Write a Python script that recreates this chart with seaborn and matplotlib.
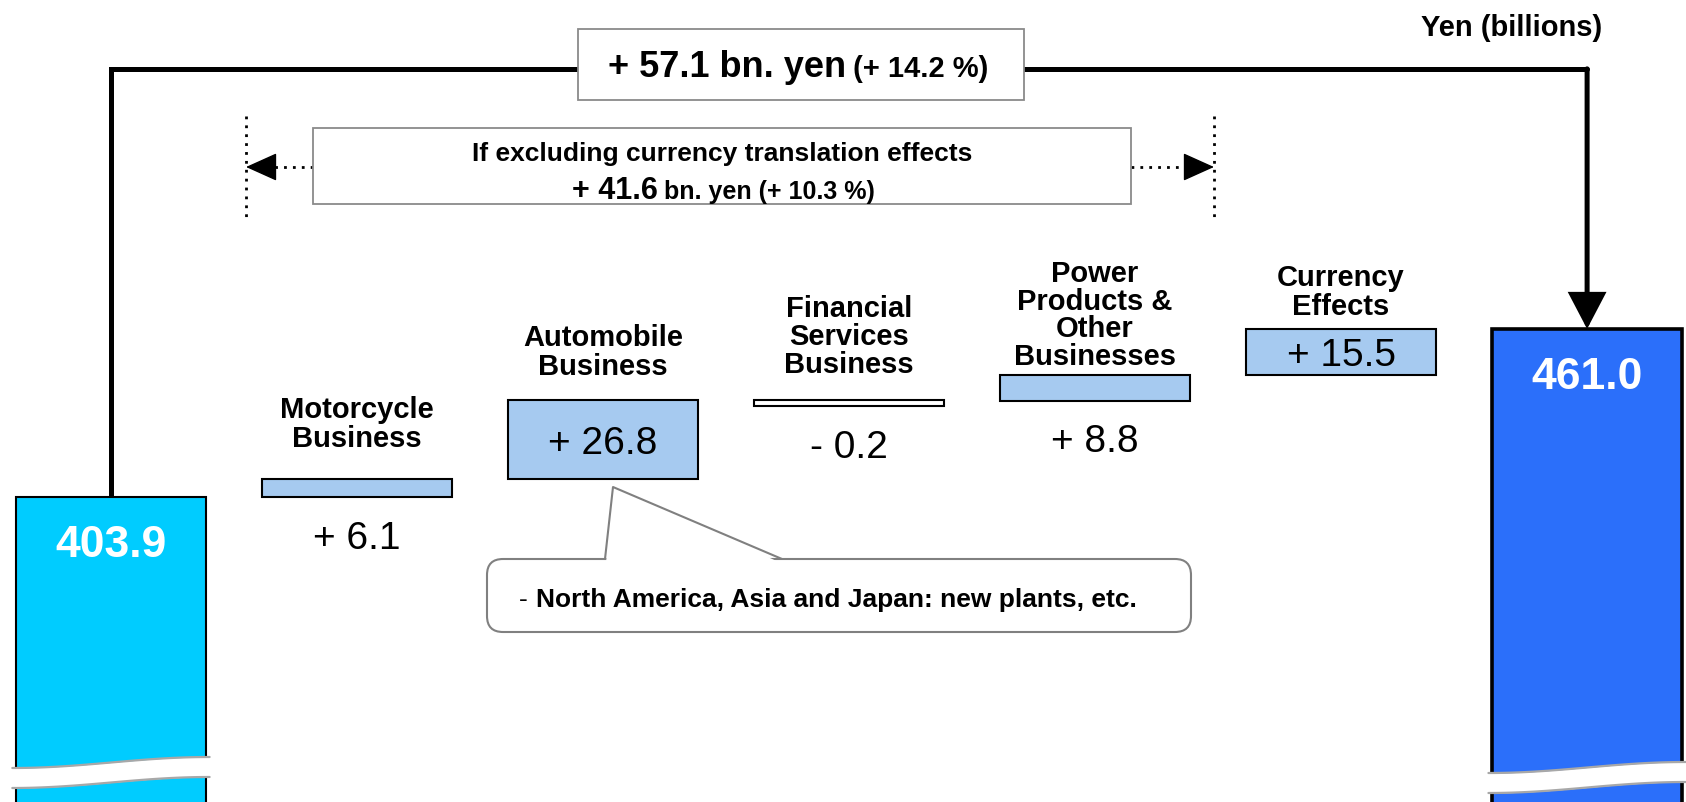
import numpy as np
import pandas as pd
import seaborn as sns
import matplotlib.pyplot as plt
from matplotlib.patches import Rectangle, FancyBboxPatch, Polygon
from matplotlib.transforms import Affine2D, blended_transform_factory
#---------------------------------------------------------------------------#
# values (Yen, billions)
start_value = 403.9
end_value = 461.0
step_labels = ['Motorcycle\nBusiness', 'Automobile\nBusiness',
               'Financial\nServices\nBusiness',
               'Power\nProducts &\nOther\nBusinesses', 'Currency\nEffects']
step_values = [6.1, 26.8, -0.2, 8.8, 15.5]
step_text = ['+ 6.1', '+ 26.8', '- 0.2', '+ 8.8', '+ 15.5']

total_change = '+ 57.1 bn. yen'
total_pct = '(+ 14.2 %)'
excl_title = 'If excluding currency translation effects'
excl_change = '+ 41.6'
excl_rest = 'bn. yen (+ 10.3 %)'
note_text = 'North America, Asia and Japan: new plants, etc.'
unit_label = 'Yen (billions)'

# label gap above each step bar (points) - layout only
label_pad = [19, 14, 15, 3, 6]
label_spacing = [1.04, 1.04, 1.0, 0.98, 1.04]
#---------------------------------------------------------------------------#
W, H = 1686, 802
steps = np.array(step_values)
cum = start_value + np.cumsum(steps)
prev = np.concatenate([[start_value], cum[:-1]])
lo = np.minimum(prev, cum)
hi = np.maximum(prev, cum)
# keep tiny steps visible (min drawn height)
min_h = 2.0
small = (hi - lo) < min_h
lo = np.where(small & (steps < 0), prev - min_h, lo)
hi = np.where(small & (steps >= 0), prev + min_h, hi)

keys = ['start'] + ['s%d' % i for i in range(len(steps))] + ['end']
df = pd.DataFrame({'item': keys,
                   'bottom': [0] + list(lo) + [0],
                   'height': [start_value] + list(hi - lo) + [end_value]})

sns.set_style('white')
plt.rcParams['font.family'] = ['Liberation Sans', 'DejaVu Sans']
plt.rcParams['text.color'] = 'black'

fig = plt.figure(figsize=(W / 100, H / 100), dpi=100)
ax = fig.add_axes([0, 0, 1, 1])
sns.barplot(data=df, x='item', y='height', order=keys, width=0.77,
            bottom=df['bottom'].to_numpy(), color='#A6CAF0',
            edgecolor='black', linewidth=1.5, errorbar=None, ax=ax)

faces = ['#00CCFF'] + ['#A6CAF0' if v > 0 else 'white' for v in steps] + ['#2B6FFA']
for i, p in enumerate(ax.patches):
    p.set_facecolor(faces[i])
    p.set_zorder(2)
ax.patches[-1].set_linewidth(2.6)

ax.set_xlim(-0.451, 6.402)
ax.set_ylim(300.2, 572.8)
ax.axis('off')

# pixel coordinate transform (origin top-left of the picture)
T = Affine2D().scale(1 / W, -1 / H).translate(0, 1) + ax.transAxes
BL = blended_transform_factory(ax.transData, Affine2D().scale(1, -1 / H).translate(0, 1) + ax.transAxes)

n_last = len(keys) - 1
# totals
for i, v in [(0, start_value), (n_last, end_value)]:
    ax.annotate(f'{v:.1f}', xy=(i, v), xytext=(0, -35), textcoords='offset points',
                ha='center', va='center', fontsize=32, fontweight='bold',
                color='white', zorder=5)

# step labels and values
for j, (lab, txt) in enumerate(zip(step_labels, step_text)):
    i = j + 1
    ax.annotate(lab, xy=(i, hi[j]), xytext=(0, label_pad[j]), textcoords='offset points',
                ha='center', va='bottom', fontsize=21, fontweight='bold',
                linespacing=label_spacing[j], zorder=5)
    if abs(steps[j]) >= 15:
        ax.annotate(txt, xy=(i, (lo[j] + hi[j]) / 2), xytext=(0, -3),
                    textcoords='offset points', ha='center', va='center',
                    fontsize=28, zorder=5)
    else:
        ax.annotate(txt, xy=(i, lo[j]), xytext=(0, -17), textcoords='offset points',
                    ha='center', va='top', fontsize=28, zorder=5)

# axis break waves on the total bars
t = np.linspace(0, 1, 60)
s = (1 - np.cos(np.pi * t)) / 2
for i, base in [(0, 768), (n_last, 773)]:
    xs = i - 0.385 - 0.016 + t * (0.77 + 0.032)
    top = base - 11 * s
    bot = top + 20
    ax.fill_between(xs, bot, top, transform=BL, color='white', zorder=3, lw=0)
    ax.plot(xs, top, transform=BL, color='#a8a8a8', lw=1.6, zorder=3)
    ax.plot(xs, bot, transform=BL, color='#a8a8a8', lw=1.6, zorder=3)

# total change bracket
bracket_y = 549.4
ax.plot([0, 0, n_last], [start_value, bracket_y, bracket_y], color='black',
        lw=3.6, solid_joinstyle='miter', zorder=1)
ax.annotate('', xy=(n_last, end_value), xytext=(n_last, bracket_y),
            arrowprops=dict(arrowstyle='-|>,head_length=1.05,head_width=0.55',
                            color='black', lw=3.6, shrinkA=0, shrinkB=0,
                            mutation_scale=20, joinstyle='miter'), zorder=1)
ax.add_patch(Rectangle((578, 29), 446, 71, transform=T, fc='white',
                       ec='#8a8a8a', lw=1.3, zorder=4))
ax.text(846, 77, total_change, transform=T, ha='right', va='baseline',
        fontsize=26, fontweight='bold', zorder=5)
ax.text(853, 77, total_pct, transform=T, ha='left', va='baseline',
        fontsize=21, fontweight='bold', zorder=5)
ax.text(1602, 36, unit_label, transform=T, ha='right', va='baseline',
        fontsize=21, fontweight='bold')

# excluding currency effects
for x in (246, 1214):
    ax.plot([x, x], [116, 218], transform=T, color='black', lw=2, ls=(0, (1, 2.2)))
ax.plot([313, 262], [167, 167], transform=T, color='black', lw=2, ls=(0, (1, 2.2)))
ax.plot([1131, 1198], [167, 167], transform=T, color='black', lw=2, ls=(0, (1, 2.2)))
for x0, x1 in [(266, 246), (1194, 1214)]:
    ax.annotate('', xy=(x1, 167), xytext=(x0, 167), xycoords=T, textcoords=T,
                arrowprops=dict(arrowstyle='-|>,head_length=1.0,head_width=0.45',
                                color='black', lw=1, shrinkA=0, shrinkB=0,
                                mutation_scale=20))
ax.add_patch(Rectangle((313, 128), 818, 76, transform=T, fc='white',
                       ec='#8a8a8a', lw=1.3, zorder=4))
ax.text(722, 161, excl_title, transform=T, ha='center', va='baseline',
        fontsize=19, fontweight='bold', zorder=5)
ax.text(658, 199, excl_change, transform=T, ha='right', va='baseline',
        fontsize=22, fontweight='bold', zorder=5)
ax.text(664, 199, excl_rest, transform=T, ha='left', va='baseline',
        fontsize=18, fontweight='bold', zorder=5)

# callout for automobile
ax.add_patch(FancyBboxPatch((487, 559), 704, 73, boxstyle='round,pad=0,rounding_size=16',
                            transform=T, fc='white', ec='#808080', lw=1.5, zorder=4))
ax.add_patch(Polygon([(606, 563), (613, 487), (781, 563)], closed=True, transform=T,
                     fc='white', ec='none', zorder=4))
ax.plot([605, 613, 782], [559, 487, 559], transform=T, color='#808080', lw=1.5, zorder=4)
ax.text(519, 607, '-', transform=T, ha='left', va='baseline', fontsize=19, zorder=5)
ax.text(536, 607, note_text, transform=T, ha='left', va='baseline',
        fontsize=19, fontweight='bold', zorder=5)

plt.savefig('out.png', dpi=100)
